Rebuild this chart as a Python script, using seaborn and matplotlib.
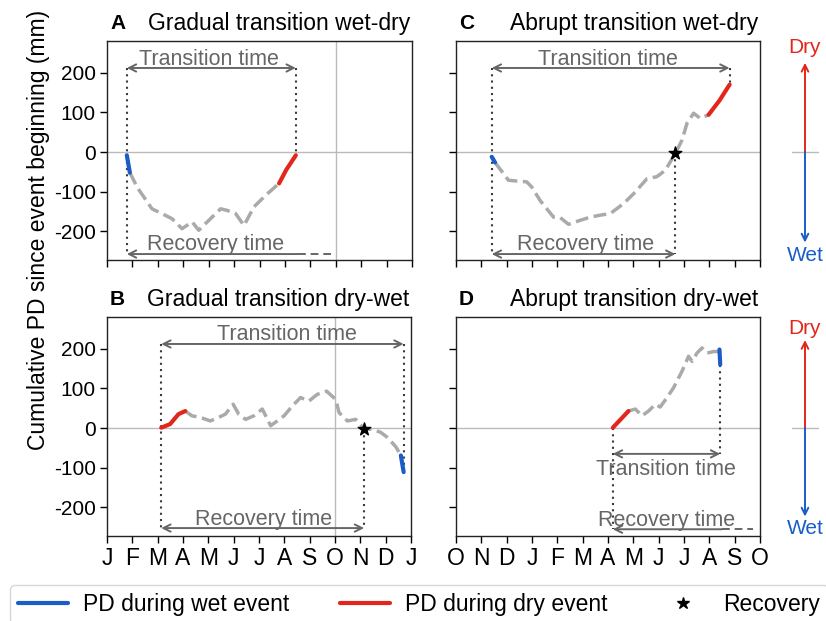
import numpy as np
import pandas as pd
import matplotlib
matplotlib.use("Agg")
import matplotlib.pyplot as plt
import matplotlib.transforms as mtransforms
from matplotlib.lines import Line2D
import seaborn as sns

# ---------------- data (x = months since start of axis, y = cumulative PD in mm)
months_jan = ['J', 'F', 'M', 'A', 'M', 'J', 'J', 'A', 'S', 'O', 'N', 'D', 'J']
months_oct = ['O', 'N', 'D', 'J', 'F', 'M', 'A', 'M', 'J', 'J', 'A', 'S', 'O']
yticks = [-200, -100, 0, 100, 200]

# Panel A: gradual wet-dry
a_wet_x = [0.78, 0.90]
a_wet_y = [-8, -52]
a_gray_x = [0.90, 1.20, 1.77, 2.16, 2.56, 2.95, 3.35, 3.61, 4.07, 4.47, 4.73, 5.06, 5.39, 5.78, 6.31, 6.77]
a_gray_y = [-52, -90, -143, -155, -168, -193, -176, -197, -168, -143, -147, -155, -185, -138, -105, -79]
a_dry_x = [6.77, 7.05, 7.43]
a_dry_y = [-79, -45, -8]

# Panel C: abrupt wet-dry
c_wet_x = [1.41, 1.54]
c_wet_y = [-12, -26]
c_gray_x = [1.54, 2.07, 2.40, 2.79, 2.99, 3.32, 3.85, 4.11, 4.44, 4.90, 5.30, 5.69, 6.09, 6.61, 7.01,
            7.54, 7.93, 8.26, 8.66, 8.92, 9.12, 9.38, 9.64, 9.97]
c_gray_y = [-26, -71, -73, -75, -88, -122, -164, -165, -182, -172, -164, -159, -155, -130, -105,
            -67, -62, -46, -3, 30, 73, 98, 85, 94]
c_dry_x = [9.97, 10.40, 10.80]
c_dry_y = [94, 130, 170]
c_star = (8.66, -3)

# Panel B: gradual dry-wet
b_dry_x = [2.14, 2.49, 2.82, 3.09]
b_dry_y = [1, 10, 35, 43]
b_gray_x = [3.09, 3.35, 3.68, 4.08, 4.41, 4.67, 4.98, 5.20, 5.47, 5.80, 6.13, 6.46, 6.72, 6.99, 7.32,
            7.64, 7.97, 8.30, 8.67, 9.03, 9.16, 9.49, 9.82, 10.15, 10.48, 10.81, 11.08, 11.41, 11.60]
b_gray_y = [43, 31, 27, 18, 27, 35, 60, 35, 22, 31, 48, 6, 18, 31, 56,
            77, 68, 85, 93, 72, 39, 18, 22, -2, -3, -11, -24, -48, -69]
b_wet_x = [11.60, 11.71]
b_wet_y = [-69, -111]
b_star = (10.15, -2)

# Panel D: abrupt dry-wet
d_dry_x = [6.19, 6.81]
d_dry_y = [1, 43]
d_gray_x = [6.81, 7.08, 7.34, 7.60, 7.87, 8.06, 8.33, 8.59, 8.92, 9.18, 9.32, 9.51, 9.71, 9.91, 10.17, 10.40]
d_gray_y = [43, 48, 31, 43, 60, 53, 77, 102, 143, 181, 168, 189, 202, 189, 193, 193]
d_wet_x = [10.40, 10.43]
d_wet_y = [198, 160]

# ---------------- style
sns.set_style("ticks")
plt.rcParams['font.family'] = ['Liberation Sans', 'DejaVu Sans']
plt.rcParams['text.color'] = 'black'
plt.rcParams['xtick.labelcolor'] = 'black'
plt.rcParams['ytick.labelcolor'] = 'black'

BLUE = '#1a5cc8'
RED = '#e3261c'
GRAY = '#aaaaaa'
ARROW = '#666666'
DOT = '#3a3a3a'

W, H = 826, 621
fig = plt.figure(figsize=(W / 100, H / 100), dpi=100)


def px_axes(left, top, right, bottom):
    return fig.add_axes([left / W, 1 - bottom / H, (right - left) / W, (bottom - top) / H])


axA = px_axes(107, 41, 412, 260)
axC = px_axes(456, 41, 760, 260)
axB = px_axes(107, 317, 411, 536)
axD = px_axes(456, 317, 760, 536)

YLIM = (-272, 280)


def line(ax, x, y, color, lw=3, ls='-'):
    df = pd.DataFrame({'x': x, 'y': y})
    sns.lineplot(data=df, x='x', y='y', ax=ax, color=color, lw=lw, linestyle=ls,
                 sort=False, estimator=None, legend=False)


def base(ax, labels, show_x, show_y, vline=None):
    ax.set_xlim(0, 12)
    ax.set_ylim(*YLIM)
    ax.axhline(0, color='#bbbbbb', lw=1, zorder=0)
    if vline is not None:
        ax.axvline(vline, color='#bbbbbb', lw=1, zorder=0)
    ax.set_xticks(range(13))
    ax.set_yticks(yticks)
    ax.set_xticklabels(labels if show_x else [])
    ax.set_yticklabels([str(v) for v in yticks] if show_y else [])
    ax.tick_params(axis='x', labelsize=16.5, length=5, width=1, pad=3, color='black',
                   labelcolor='black')
    ax.tick_params(axis='y', labelsize=15, length=5, width=1, pad=3, color='black',
                   labelcolor='black')
    for s in ax.spines.values():
        s.set_color('#222222')
        s.set_linewidth(1)


def finish(ax):
    ax.set_xlabel('')
    ax.set_ylabel('')


def dbl_arrow(ax, x1, x2, y, left=True, right=True):
    style = '<->' if (left and right) else ('<-' if left else '->')
    ax.annotate('', xy=(x2, y), xytext=(x1, y),
                arrowprops=dict(arrowstyle=style, color=ARROW, lw=1.4,
                                shrinkA=0, shrinkB=0, mutation_scale=13))


def vdot(ax, x, y1, y2):
    ax.plot([x, x], [y1, y2], color=DOT, lw=1.5, ls=(0, (1, 2)), zorder=1)


def label(ax, x, y, s):
    ax.text(x, y, s, ha='center', va='baseline', fontsize=15.5, color=ARROW)


def titles(ax, letter, title):
    ax.text(0.01, 1.055, letter, transform=ax.transAxes, fontsize=15, fontweight='bold',
            ha='left', va='baseline', color='black')
    ax.text(0.995, 1.05, title, transform=ax.transAxes, fontsize=16.5,
            ha='right', va='baseline', color='black')


# ---- Panel A
base(axA, months_jan, False, True, vline=9)
line(axA, a_gray_x, a_gray_y, GRAY, lw=2.5, ls='--')
line(axA, a_wet_x, a_wet_y, BLUE)
line(axA, a_dry_x, a_dry_y, RED)
dbl_arrow(axA, 0.78, 7.43, 212)
label(axA, 4.0, 220, 'Transition time')
vdot(axA, 0.78, 212, -255)
vdot(axA, 7.43, 212, -8)
dbl_arrow(axA, 0.78, 7.5, -257, left=True, right=False)
axA.plot([7.5, 8.8], [-257, -257], color=ARROW, lw=1.4, ls=(0, (4, 2.5)))
label(axA, 4.27, -247, 'Recovery time')
titles(axA, 'A', 'Gradual transition wet-dry')
finish(axA)

# ---- Panel C
base(axC, months_oct, False, False)
line(axC, c_gray_x, c_gray_y, GRAY, lw=2.5, ls='--')
line(axC, c_wet_x, c_wet_y, BLUE)
line(axC, c_dry_x, c_dry_y, RED)
axC.scatter([c_star[0]], [c_star[1]], marker='*', s=90, color='black', zorder=5)
dbl_arrow(axC, 1.41, 10.80, 212)
label(axC, 6.0, 220, 'Transition time')
vdot(axC, 1.41, 212, -257)
vdot(axC, 10.80, 212, 170)
vdot(axC, c_star[0], c_star[1], -257)
dbl_arrow(axC, 1.41, c_star[0], -257)
label(axC, 5.1, -247, 'Recovery time')
titles(axC, 'C', 'Abrupt transition wet-dry')
finish(axC)

# ---- Panel B
base(axB, months_jan, True, True, vline=9)
line(axB, b_gray_x, b_gray_y, GRAY, lw=2.5, ls='--')
line(axB, b_dry_x, b_dry_y, RED)
line(axB, b_wet_x, b_wet_y, BLUE)
axB.scatter([b_star[0]], [b_star[1]], marker='*', s=90, color='black', zorder=5)
dbl_arrow(axB, 2.14, 11.71, 212)
label(axB, 7.1, 221, 'Transition time')
vdot(axB, 2.14, 212, -252)
vdot(axB, 11.71, 212, -111)
vdot(axB, b_star[0], b_star[1], -252)
dbl_arrow(axB, 2.14, b_star[0], -252)
label(axB, 6.19, -244, 'Recovery time')
titles(axB, 'B', 'Gradual transition dry-wet')
finish(axB)

# ---- Panel D
base(axD, months_oct, True, False)
line(axD, d_gray_x, d_gray_y, GRAY, lw=2.5, ls='--')
line(axD, d_dry_x, d_dry_y, RED)
line(axD, d_wet_x, d_wet_y, BLUE)
dbl_arrow(axD, 6.19, 10.43, -65)
label(axD, 8.3, -119, 'Transition time')
vdot(axD, 6.19, 0, -255)
vdot(axD, 10.43, 160, -65)
dbl_arrow(axD, 6.19, 10.5, -255, left=True, right=False)
axD.plot([10.5, 11.74], [-255, -255], color=ARROW, lw=1.4, ls=(0, (4, 2.5)))
label(axD, 8.3, -247, 'Recovery time')
titles(axD, 'D', 'Abrupt transition dry-wet')
finish(axD)

# ---- Dry / Wet indicators right of C and D
for ax, top_tip, bot_tip, dry_y, wet_y in [(axC, 225, -228, 263, -261), (axD, 222, -223, 251, -252)]:
    tr = mtransforms.blended_transform_factory(ax.transAxes, ax.transData)
    xa = 1.148
    ax.plot([1.105, 1.19], [0, 0], color='#bbbbbb', lw=1, transform=tr, clip_on=False)
    ax.annotate('', xy=(xa, top_tip), xytext=(xa, 0), xycoords=tr, textcoords=tr,
                arrowprops=dict(arrowstyle='->', color=RED, lw=1.4, shrinkA=0, shrinkB=0,
                                mutation_scale=12), annotation_clip=False)
    ax.annotate('', xy=(xa, bot_tip), xytext=(xa, 0), xycoords=tr, textcoords=tr,
                arrowprops=dict(arrowstyle='->', color=BLUE, lw=1.4, shrinkA=0, shrinkB=0,
                                mutation_scale=12), annotation_clip=False)
    ax.text(xa, dry_y, 'Dry', transform=tr, color=RED, fontsize=15, ha='center', va='center',
            clip_on=False)
    ax.text(xa, wet_y, 'Wet', transform=tr, color=BLUE, fontsize=15, ha='center', va='center',
            clip_on=False)

# ---- y label
fig.text(39 / W, 1 - 230 / H, 'Cumulative PD since event beginning (mm)', rotation=90,
         ha='center', va='center', fontsize=16.5, color='black')

# ---- legend
handles = [Line2D([0], [0], color=BLUE, lw=3),
           Line2D([0], [0], color=RED, lw=3),
           Line2D([0], [0], color='black', marker='*', ls='none', markersize=9)]
labels_leg = ['PD during wet event', 'PD during dry event', 'Recovery']
leg = fig.legend(handles, labels_leg, loc='upper left', bbox_to_anchor=(10 / W, 1 - 585 / H),
                 ncol=3, fontsize=16.5, frameon=True, handlelength=2.2, handletextpad=0.65,
                 columnspacing=2.2, borderaxespad=0, borderpad=0.35, fancybox=True,
                 labelcolor='black')
leg.get_frame().set_edgecolor('#cccccc')
leg.get_frame().set_linewidth(1)

fig.savefig('out.png', dpi=100)
